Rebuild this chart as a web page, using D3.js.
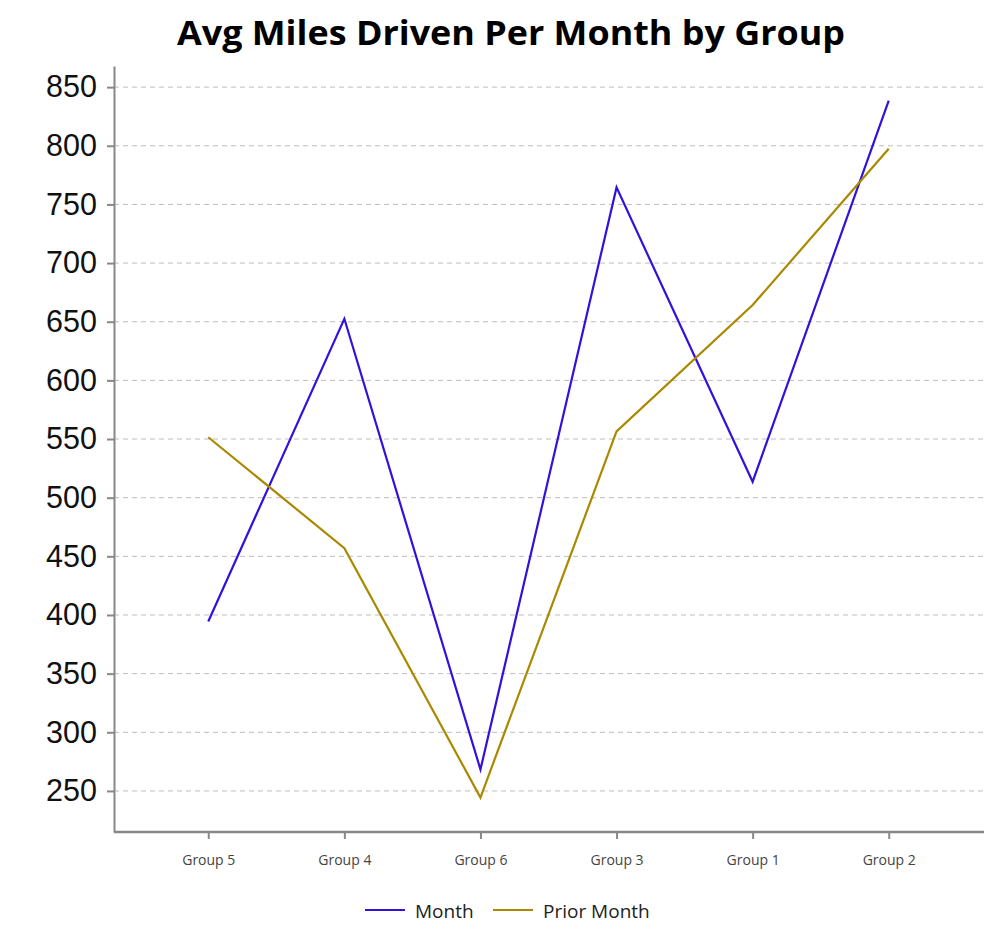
<!DOCTYPE html>
<meta charset="utf-8">
<style>
body { margin: 0; background: #fff; }
.grid line { stroke: #bdbdbd; stroke-dasharray: 5,4; }
.axis path, .axis line { stroke: #888; }
</style>
<body>
<div id="chart"></div>
<script src="https://d3js.org/d3.v7.min.js"></script>
<script>

var width = 994,
    height = 930;

// data
var groups = ["Group 5", "Group 4", "Group 6", "Group 3", "Group 1", "Group 2"];
var monthValues = [394.5, 652.5, 268.3, 764.5, 513.6, 838.5];
var priorMonthValues = [551.5, 457, 244.4, 556.5, 664.2, 797.5];
var yTicks = [250, 300, 350, 400, 450, 500, 550, 600, 650, 700, 750, 800, 850];
var seriesNames = ["Month", "Prior Month"];
var seriesColors = ["#3311dd", "#aa8800"];

var plotLeft = 114, plotRight = 984, plotTop = 66, plotBottom = 832;

var svg = d3.select("#chart").append("svg")
    .attr("width", width)
    .attr("height", height);

var x = d3.scalePoint()
    .domain(groups)
    .range([plotLeft - 1, plotRight])
    .padding(0.7);

var y = d3.scaleLinear()
    .domain([215, 868])
    .range([plotBottom, plotTop]);

// title
svg.append("text")
    .attr("x", 511)
    .attr("y", 45)
    .attr("text-anchor", "middle")
    .attr("font-family", "'Open Sans', sans-serif")
    .attr("font-weight", "bold")
    .attr("font-size", 34)
    .attr("textLength", 668)
    .attr("lengthAdjust", "spacingAndGlyphs")
    .text("Avg Miles Driven Per Month by Group");

// gridlines
svg.append("g")
    .attr("class", "grid")
    .selectAll("line")
    .data(yTicks)
    .enter().append("line")
    .attr("x1", plotLeft)
    .attr("x2", plotRight)
    .attr("y1", function(d) { return y(d); })
    .attr("y2", function(d) { return y(d); });

// y axis
var yAxis = svg.append("g")
    .attr("class", "axis")
    .attr("transform", "translate(" + plotLeft + ",0)")
    .call(d3.axisLeft(y).tickValues(yTicks).tickSize(7).tickSizeOuter(0).tickPadding(10));
yAxis.select(".domain").attr("stroke-width", 2);
yAxis.selectAll(".tick line").attr("stroke-width", 2);
yAxis.selectAll("text")
    .attr("font-family", "'Liberation Sans', Arial, sans-serif")
    .attr("font-size", 30.5)
    .attr("fill", "#111");

// x axis
var xAxis = svg.append("g")
    .attr("class", "axis")
    .attr("transform", "translate(0," + plotBottom + ")")
    .call(d3.axisBottom(x).tickSize(7).tickSizeOuter(0).tickPadding(16));
xAxis.select(".domain")
    .attr("d", "M" + plotLeft + ",0H" + plotRight)
    .attr("stroke-width", 2.5);
xAxis.selectAll(".tick line").attr("stroke-width", 2);
xAxis.selectAll("text")
    .attr("font-family", "'Open Sans', sans-serif")
    .attr("font-size", 14)
    .attr("fill", "#444");

// lines
var line = d3.line()
    .x(function(d, i) { return x(groups[i]); })
    .y(function(d) { return y(d); });

[monthValues, priorMonthValues].forEach(function(vals, i) {
  svg.append("path")
    .datum(vals)
    .attr("fill", "none")
    .attr("stroke", seriesColors[i])
    .attr("stroke-width", 2.2)
    .attr("d", line);
});

// legend
var legendX = [365, 493];
var legend = svg.append("g");
seriesNames.forEach(function(name, i) {
  legend.append("line")
    .attr("x1", legendX[i])
    .attr("x2", legendX[i] + 40)
    .attr("y1", 910)
    .attr("y2", 910)
    .attr("stroke", seriesColors[i])
    .attr("stroke-width", 2.2);
  legend.append("text")
    .attr("x", legendX[i] + 50)
    .attr("y", 918)
    .attr("font-family", "'Open Sans', sans-serif")
    .attr("font-size", 19)
    .attr("fill", "#222")
    .text(name);
});

</script>
</body>
